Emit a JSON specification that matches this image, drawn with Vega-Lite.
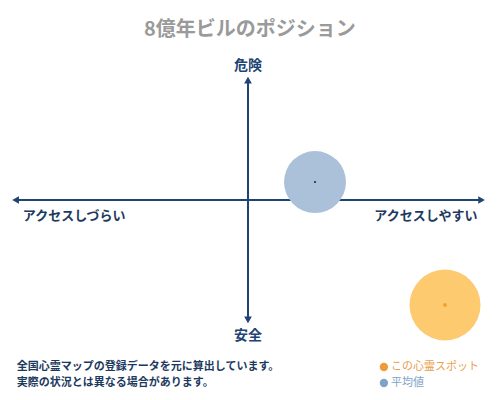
{
  "$schema": "https://vega.github.io/schema/vega-lite/v6.json",
  "width": 500,
  "height": 400,
  "autosize": {"type": "fit", "contains": "padding"},
  "padding": 0,
  "background": "white",
  "config": {"view": {"stroke": null}, "text": {"font": "Noto Sans CJK JP"}},
  "datasets": {
    "axes": [
      {"x": -9.85, "x2": 9.9, "y": 0, "y2": 0},
      {"x": 0, "x2": 0, "y": -10, "y2": 10}
    ],
    "arrows": [
      {"x": 9.9, "y": 0, "dir": "triangle-right"},
      {"x": -9.85, "y": 0, "dir": "triangle-left"},
      {"x": 0, "y": 10, "dir": "triangle-up"},
      {"x": 0, "y": -10, "dir": "triangle-down"}
    ],
    "positions": [
      {"series": "平均値", "x": 2.84, "y": 1.5},
      {"series": "この心霊スポット", "x": 8.35, "y": -8.75}
    ],
    "axisLabels": [
      {"label": "危険", "x": 0, "y": 11.2},
      {"label": "安全", "x": 0, "y": -11.3}
    ],
    "sideLabels": [
      {"label": "アクセスしづらい", "x": -7.37, "y": -1.3},
      {"label": "アクセスしやすい", "x": 7.54, "y": -1.3}
    ],
    "notes": [
      {"label": "全国心霊マップの登録データを元に算出しています。", "x": -9.8, "y": -13.92},
      {"label": "実際の状況とは異なる場合があります。", "x": -9.8, "y": -15.25}
    ],
    "legend": [
      {"series": "この心霊スポット", "x": 5.76, "y": -13.92},
      {"series": "平均値", "x": 5.76, "y": -15.25}
    ],
    "title": [
      {"label": "8億年ビルのポジション", "x": 0.08, "y": 14.2}
    ]
  },
  "layer": [
    {
      "data": {"name": "axes"},
      "mark": {"type": "rule", "color": "#1d4472", "strokeWidth": 2},
      "encoding": {
        "x": {"field": "x", "type": "quantitative", "scale": {"domain": [-10.51, 10.68], "nice": false, "zero": false}, "axis": null},
        "x2": {"field": "x2"},
        "y": {"field": "y", "type": "quantitative", "scale": {"domain": [-16.67, 16.67], "nice": false, "zero": false}, "axis": null},
        "y2": {"field": "y2"}
      }
    },
    {
      "data": {"name": "arrows"},
      "mark": {"type": "point", "filled": true, "opacity": 1, "color": "#1d4472", "size": 60},
      "encoding": {
        "x": {"field": "x", "type": "quantitative"},
        "y": {"field": "y", "type": "quantitative"},
        "shape": {"field": "dir", "type": "nominal", "scale": null, "legend": null}
      }
    },
    {
      "data": {"name": "positions"},
      "mark": {"type": "point", "filled": true, "opacity": 1, "shape": "circle"},
      "encoding": {
        "x": {"field": "x", "type": "quantitative"},
        "y": {"field": "y", "type": "quantitative"},
        "color": {"field": "series", "type": "nominal", "legend": null,
          "scale": {"domain": ["この心霊スポット", "平均値"], "range": ["#fdca70", "#abc1da"]}},
        "size": {"field": "series", "type": "nominal", "legend": null,
          "scale": {"domain": ["この心霊スポット", "平均値"], "range": [5040, 3840]}}
      }
    },
    {
      "data": {"name": "positions"},
      "mark": {"type": "point", "filled": true, "opacity": 1, "shape": "circle"},
      "encoding": {
        "x": {"field": "x", "type": "quantitative"},
        "y": {"field": "y", "type": "quantitative"},
        "color": {"field": "series", "type": "nominal", "legend": null,
          "scale": {"domain": ["この心霊スポット", "平均値"], "range": ["#f0a030", "#1d3557"]}},
        "size": {"field": "series", "type": "nominal", "legend": null,
          "scale": {"domain": ["この心霊スポット", "平均値"], "range": [14, 5]}}
      }
    },
    {
      "data": {"name": "title"},
      "mark": {"type": "text", "fontSize": 20, "fontWeight": "bold", "color": "#9a9a9a"},
      "encoding": {
        "x": {"field": "x", "type": "quantitative"},
        "y": {"field": "y", "type": "quantitative"},
        "text": {"field": "label"}
      }
    },
    {
      "data": {"name": "axisLabels"},
      "mark": {"type": "text", "fontSize": 14, "fontWeight": "bold", "color": "#1d4472"},
      "encoding": {
        "x": {"field": "x", "type": "quantitative"},
        "y": {"field": "y", "type": "quantitative"},
        "text": {"field": "label"}
      }
    },
    {
      "data": {"name": "sideLabels"},
      "mark": {"type": "text", "fontSize": 13, "fontWeight": "bold", "color": "#1d3a5e"},
      "encoding": {
        "x": {"field": "x", "type": "quantitative"},
        "y": {"field": "y", "type": "quantitative"},
        "text": {"field": "label"}
      }
    },
    {
      "data": {"name": "notes"},
      "mark": {"type": "text", "fontSize": 11, "fontWeight": "bold", "align": "left", "color": "#1d3a5e"},
      "encoding": {
        "x": {"field": "x", "type": "quantitative"},
        "y": {"field": "y", "type": "quantitative"},
        "text": {"field": "label"}
      }
    },
    {
      "data": {"name": "legend"},
      "mark": {"type": "point", "filled": true, "opacity": 1, "shape": "circle", "size": 70},
      "encoding": {
        "x": {"field": "x", "type": "quantitative"},
        "y": {"field": "y", "type": "quantitative"},
        "color": {"field": "series", "type": "nominal", "legend": null,
          "scale": {"domain": ["この心霊スポット", "平均値"], "range": ["#ee9b3a", "#7fa3c8"]}}
      }
    },
    {
      "data": {"name": "legend"},
      "mark": {"type": "text", "fontSize": 11, "align": "left", "dx": 7},
      "encoding": {
        "x": {"field": "x", "type": "quantitative"},
        "y": {"field": "y", "type": "quantitative"},
        "text": {"field": "series"},
        "color": {"field": "series", "type": "nominal", "legend": null,
          "scale": {"domain": ["この心霊スポット", "平均値"], "range": ["#e8a04c", "#7fa3c8"]}}
      }
    }
  ],
  "resolve": {"scale": {"color": "independent", "size": "independent"}}
}
